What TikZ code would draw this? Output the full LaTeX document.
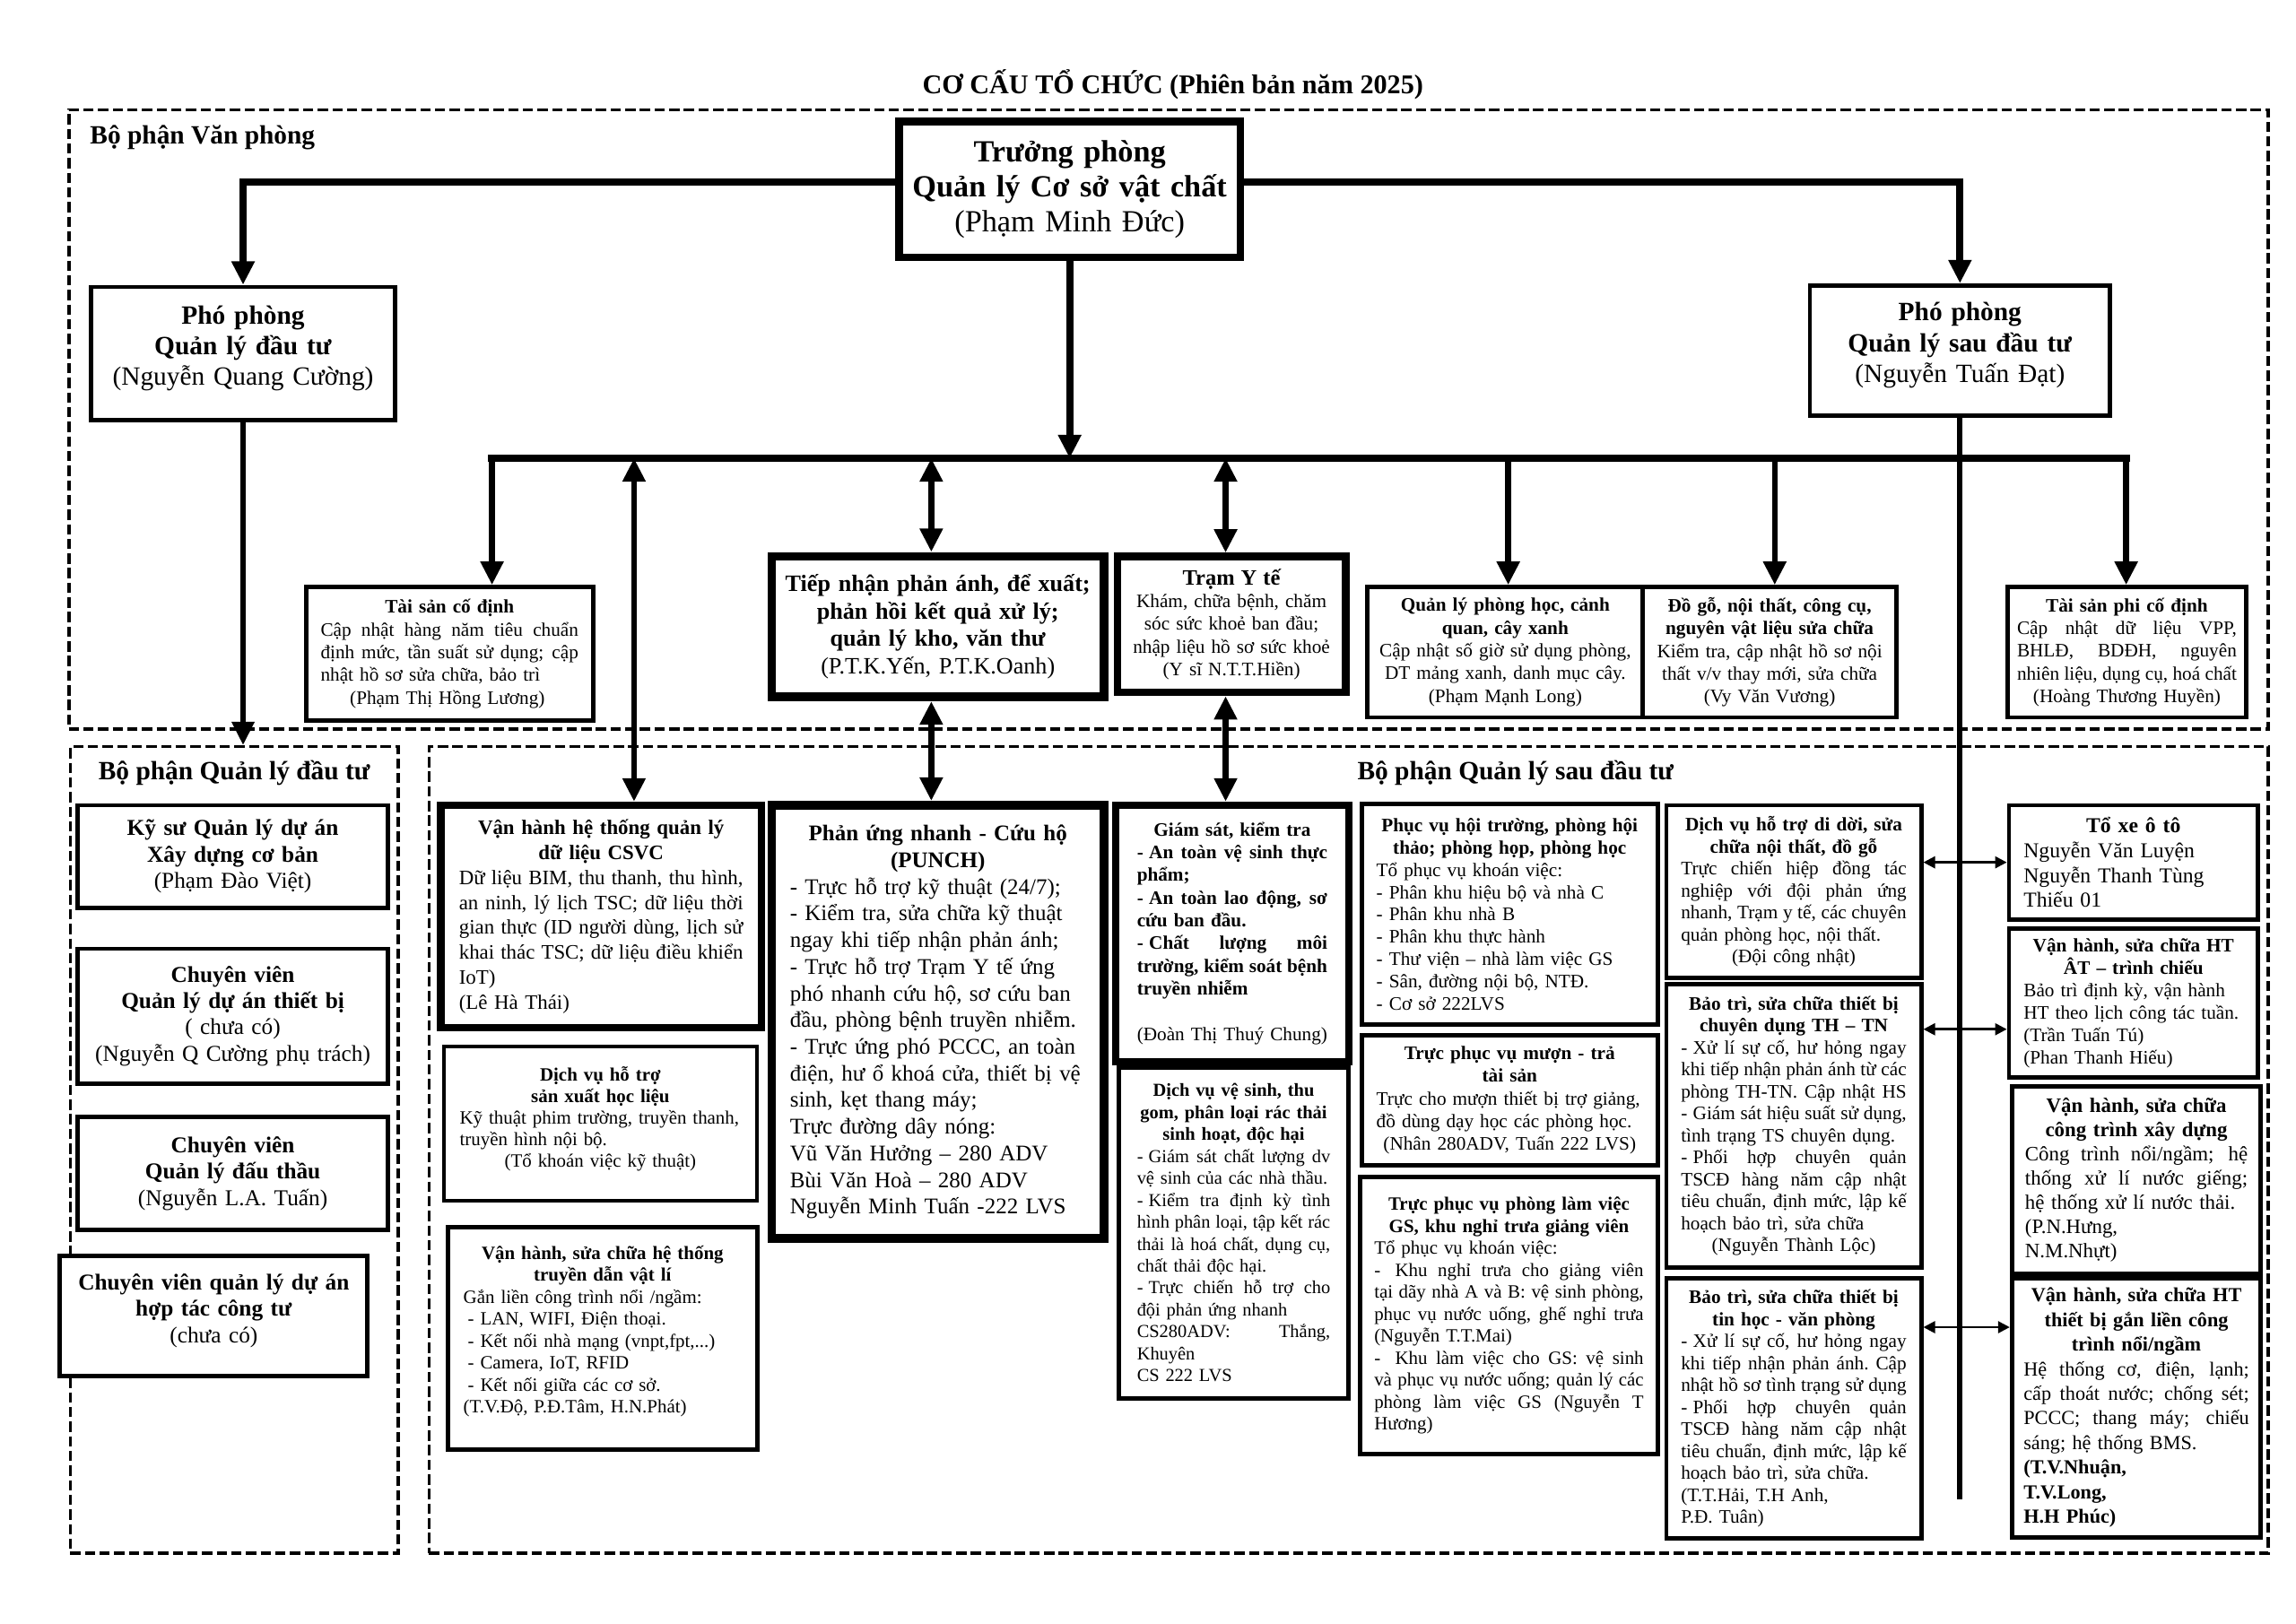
\documentclass[tikz,border=0pt]{standalone}
\usepackage{fontspec}
\setmainfont{Liberation Serif}
\usetikzlibrary{arrows.meta}
\newcommand\J[1]{\makebox[\hsize][s]{\spaceskip=.25em plus 1fil minus .12em\xspaceskip=\spaceskip #1}}
\newcommand\Cc[1]{\makebox[\hsize][c]{#1}}
\newcommand\fsz[2]{\fontsize{#1}{#2}\selectfont}
\newcommand\dsh{-\hspace{.3em}}
\begin{document}
\begin{tikzpicture}[x=1pt,y=-1pt,
 bx/.style={draw, fill=white, line width=3pt, inner xsep=2pt, inner ysep=2pt, align=left,
   execute at begin node={\rightskip=0pt plus 1fil minus 300pt\relax}},
 bxc/.style={bx, align=center,
   execute at begin node={\leftskip=0pt plus 1fil minus 150pt\rightskip=0pt plus 1fil minus 150pt\relax}},
 dbox/.style={draw, line width=2.2pt, dash pattern=on 7pt off 3pt},
 conn/.style={line width=5pt, line cap=rect},
 arr/.style={line width=4pt, -{Triangle[length=16pt,width=15pt]}},
 darr/.style={line width=4pt, {Triangle[length=16pt,width=15pt]}-{Triangle[length=16pt,width=15pt]}},
 sarr/.style={line width=1.6pt, {Triangle[length=8pt,width=8pt]}-{Triangle[length=8pt,width=8pt]}},
 lab/.style={font=\fsz{18}{20}\bfseries}
]
\fill[white] (0,0) rectangle (1568,1109);
\useasboundingbox (0,0) rectangle (1568,1109);

\node[font=\fsz{18.5}{21}\bfseries] (title) at (801,58) {CƠ CẤU TỔ CHỨC (Phiên bản năm 2025)};

% dashed departments
\node[dbox, minimum width=1502pt, minimum height=423pt] (A) at (798,286.5) {};
\node[lab, anchor=west] (Alab) at (58,94) {Bộ phận Văn phòng};
\node[dbox, minimum width=224pt, minimum height=551pt] (B) at (160,785.5) {};
\node[lab] (Blab) at (160,528) {Bộ phận Quản lý đầu tư};
\node[dbox, minimum width=1256pt, minimum height=551pt] (C) at (921,785.5) {};
\node[lab] (Clab) at (1035,528) {Bộ phận Quản lý sau đầu tư};

% top level
\node[bxc, line width=5pt, minimum width=233pt, minimum height=93pt, text width=225pt, font=\fsz{21}{24}] (tp) at (730.5,129.5)
 {\textbf{Trưởng phòng}\\\textbf{Quản lý Cơ sở vật chất}\\(Phạm Minh Đức)};
\node[bxc, minimum width=208pt, minimum height=91pt, text width=200pt, font=\fsz{18}{21}] (pp1) at (166,241.5)
 {\textbf{Phó phòng}\\\textbf{Quản lý đầu tư}\\(Nguyễn Quang Cường)\\[-10pt]\mbox{}};
\node[bxc, minimum width=205pt, minimum height=89pt, text width=197pt, font=\fsz{18}{21}] (pp2) at (1338.5,239.5)
 {\textbf{Phó phòng}\\\textbf{Quản lý sau đầu tư}\\(Nguyễn Tuấn Đạt)\\[-10pt]\mbox{}};

% office row
\node[bx, minimum width=196pt, minimum height=91pt, text width=176pt, font=\fsz{13}{15.5}] (tsc) at (307,446.5)
 {\Cc{\bfseries Tài sản cố định}\\\J{Cập nhật hàng năm tiêu chuẩn}\\\J{định mức, tần suất sử dụng; cập}\\nhật hồ sơ sửa chữa, bảo trì\\\hspace*{20pt}(Phạm Thị Hồng Lương)};
\node[bxc, line width=6pt, minimum width=227pt, minimum height=96pt, text width=215pt, font=\fsz{16}{18.7}] (tn) at (640.5,428)
 {\textbf{Tiếp nhận phản ánh, để xuất;}\\\textbf{phản hồi kết quả xử lý;}\\\textbf{quản lý kho, văn thư}\\(P.T.K.Yến, P.T.K.Oanh)};
\node[bxc, line width=5pt, minimum width=156pt, minimum height=93pt, text width=145pt, font=\fsz{13}{15.5}] (yt) at (841,426.5)
 {{\fsz{15}{17}\bfseries Trạm Y tế}\\Khám, chữa bệnh, chăm\\sóc sức khoẻ ban đầu;\\nhập liệu hồ sơ sức khoẻ\\(Y sĩ N.T.T.Hiền)};
\node[bxc, minimum width=188pt, minimum height=89pt, text width=178pt, font=\fsz{13}{15.5}] (ph) at (1028,445.5)
 {\textbf{Quản lý phòng học, cảnh}\\\textbf{quan, cây xanh}\\Cập nhật số giờ sử dụng phòng,\\DT mảng xanh, danh mục cây.\\(Phạm Mạnh Long)};
\node[bxc, minimum width=173pt, minimum height=89pt, text width=165pt, font=\fsz{13}{15.5}] (dg) at (1208.5,445.5)
 {\textbf{Đồ gỗ, nội thất, công cụ,}\\\textbf{nguyên vật liệu sửa chữa}\\Kiểm tra, cập nhật hồ sơ nội\\thất v/v thay mới, sửa chữa\\(Vy Văn Vương)};
\node[bx, minimum width=163pt, minimum height=89pt, text width=150pt, font=\fsz{13}{15.5}] (tspc) at (1452.5,445.5)
 {\Cc{\bfseries Tài sản phi cố định}\\\J{Cập nhật dữ liệu VPP,}\\\J{BHLĐ, BDĐH, nguyên}\\\J{nhiên liệu, dụng cụ, hoá chất}\\\Cc{(Hoàng Thương Huyền)}};

% investment department
\node[bxc, minimum width=212pt, minimum height=70pt, text width=205pt, font=\fsz{15.5}{18}] (b1) at (159,585)
 {\textbf{Kỹ sư Quản lý dự án}\\\textbf{Xây dựng cơ bản}\\(Phạm Đào Việt)};
\node[bxc, minimum width=212pt, minimum height=92pt, text width=205pt, font=\fsz{15.5}{18}] (b2) at (159,694)
 {\textbf{Chuyên viên}\\\textbf{Quản lý dự án thiết bị}\\( chưa có)\\(Nguyễn Q Cường phụ trách)};
\node[bxc, minimum width=212pt, minimum height=77pt, text width=205pt, font=\fsz{15.5}{18}] (b3) at (159,801.5)
 {\textbf{Chuyên viên}\\\textbf{Quản lý đấu thầu}\\(Nguyễn L.A. Tuấn)};
\node[bxc, minimum width=210pt, minimum height=82pt, text width=203pt, font=\fsz{15.5}{18}] (b4) at (146,899)
 {\textbf{Chuyên viên quản lý dự án}\\\textbf{hợp tác công tư}\\(chưa có)\\[-7pt]\mbox{}};

% after-investment department
\node[bx, line width=5pt, minimum width=219pt, minimum height=152pt, text width=194pt, font=\fsz{14}{17}] (c1) at (410.5,626)
 {\Cc{\bfseries Vận hành hệ thống quản lý}\\\Cc{\bfseries dữ liệu CSVC}\\\J{Dữ liệu BIM, thu thanh, thu hình,}\\\J{an ninh, lý lịch TSC; dữ liệu thời}\\\J{gian thực (ID người dùng, lịch sử}\\\J{khai thác TSC; dữ liệu điều khiển}\\IoT)\\(Lê Hà Thái)};
\node[bx, line width=2.5pt, minimum width=214pt, minimum height=105pt, text width=192pt, font=\fsz{12.8}{14.7}] (c2) at (410,767.5)
 {\Cc{\bfseries Dịch vụ hỗ trợ}\\\Cc{\bfseries sản xuất học liệu}\\Kỹ thuật phim trường, truyền thanh,\\truyền hình nội bộ.\\\Cc{(Tổ khoán việc kỹ thuật)}\\[-6pt]\mbox{}};
\node[bx, minimum width=211pt, minimum height=152pt, text width=190pt, font=\fsz{12.8}{15}] (c3) at (411.5,914)
 {\Cc{\bfseries Vận hành, sửa chữa hệ thống}\\\Cc{\bfseries truyền dẫn vật lí}\\Gắn liền công trình nổi /ngầm:\\\hspace*{3pt}- LAN, WIFI, Điện thoại.\\\hspace*{3pt}- Kết nối nhà mạng (vnpt,fpt,...)\\\hspace*{3pt}- Camera, IoT, RFID\\\hspace*{3pt}- Kết nối giữa các cơ sở.\\(T.V.Độ, P.Đ.Tâm, H.N.Phát)\\[-3pt]\mbox{}};
\node[bx, line width=6pt, minimum width=227pt, minimum height=296pt, text width=202pt, font=\fsz{15.3}{18.2}] (pu) at (640.5,698)
 {\Cc{\bfseries Phản ứng nhanh - Cứu hộ}\\\Cc{\bfseries (PUNCH)}\\- Trực hỗ trợ kỹ thuật (24/7);\\- Kiểm tra, sửa chữa kỹ thuật\\ngay khi tiếp nhận phản ánh;\\- Trực hỗ trợ Trạm Y tế ứng\\phó nhanh cứu hộ, sơ cứu ban\\đầu, phòng bệnh truyền nhiễm.\\- Trực ứng phó PCCC, an toàn\\điện, hư ổ khoá cửa, thiết bị vệ\\sinh, kẹt thang máy;\\Trực đường dây nóng:\\Vũ Văn Hưởng – 280 ADV\\Bùi Văn Hoà – 280 ADV\\Nguyễn Minh Tuấn -222 LVS};
\node[bx, line width=5pt, minimum width=159pt, minimum height=175pt, text width=130pt, font=\fsz{13}{15.5}] (gs) at (841.5,637.5)
 {\Cc{\bfseries Giám sát, kiểm tra}\\\bfseries\J{\dsh An toàn vệ sinh thực}\\phẩm;\\\J{\dsh An toàn lao động, sơ}\\cứu ban đầu.\\\J{\dsh Chất lượng môi}\\\J{trường, kiểm soát bệnh}\\truyền nhiễm\\[15.5pt]\mdseries(Đoàn Thị Thuý Chung)};
\node[bx, minimum width=157pt, minimum height=226pt, text width=132pt, font=\fsz{12.5}{15}] (vs) at (842.5,842)
 {\Cc{\bfseries Dịch vụ vệ sinh, thu}\\\Cc{\bfseries gom, phân loại rác thải}\\\Cc{\bfseries sinh hoạt, độc hại}\\\J{\dsh Giám sát chất lượng dv}\\vệ sinh của các nhà thầu.\\\J{\dsh Kiểm tra định kỳ tình}\\\J{hình phân loại, tập kết rác}\\\J{thải là hoá chất, dụng cụ,}\\chất thải độc hại.\\\J{\dsh Trực chiến hỗ trợ cho}\\đội phản ứng nhanh\\\J{CS280ADV: Thắng,}\\Khuyên\\CS 222 LVS};
\node[bx, minimum width=202pt, minimum height=151pt, text width=182pt, font=\fsz{13}{15.2}] (hT) at (1031,624.5)
 {\Cc{\bfseries Phục vụ hội trường, phòng hội}\\\Cc{\bfseries thảo; phòng họp, phòng học}\\Tổ phục vụ khoán việc:\\- Phân khu hiệu bộ và nhà C\\- Phân khu nhà B\\- Phân khu thực hành\\- Thư viện – nhà làm việc GS\\- Sân, đường nội bộ, NTĐ.\\- Cơ sở 222LVS};
\node[bx, minimum width=202pt, minimum height=89pt, text width=182pt, font=\fsz{13}{15.5}] (mt) at (1031,751.5)
 {\Cc{\bfseries Trực phục vụ mượn - trả}\\\Cc{\bfseries tài sản}\\Trực cho mượn thiết bị trợ giảng,\\đồ dùng dạy học các phòng học.\\\Cc{(Nhân 280ADV, Tuấn 222 LVS)}};
\node[bx, minimum width=203pt, minimum height=189pt, text width=184pt, font=\fsz{12.8}{15}] (lv) at (1030.5,898.5)
 {\Cc{\bfseries Trực phục vụ phòng làm việc}\\\Cc{\bfseries GS, khu nghỉ trưa giảng viên}\\Tổ phục vụ khoán việc:\\\J{-\hspace{10pt}Khu nghỉ trưa cho giảng viên}\\\J{tại dãy nhà A và B: vệ sinh phòng,}\\\J{phục vụ nước uống, ghế nghỉ trưa}\\(Nguyễn T.T.Mai)\\\J{-\hspace{10pt}Khu làm việc cho GS: vệ sinh}\\\J{và phục vụ nước uống; quản lý các}\\\J{phòng làm việc GS (Nguyễn T}\\Hương)};
\node[bx, minimum width=174pt, minimum height=118pt, text width=154pt, font=\fsz{13}{15}] (dd) at (1225,609)
 {\Cc{\bfseries Dịch vụ hỗ trợ di dời, sửa}\\\Cc{\bfseries chữa nội thất, đồ gỗ}\\\J{Trực chiến hiệp đồng tác}\\\J{nghiệp với đội phản ứng}\\\J{nhanh, Trạm y tế, các chuyên}\\quản phòng học, nội thất.\\\Cc{(Đội công nhật)}};
\node[bx, minimum width=174pt, minimum height=194pt, text width=154pt, font=\fsz{13}{15}] (tt) at (1225,769)
 {\Cc{\bfseries Bảo trì, sửa chữa thiết bị}\\\Cc{\bfseries chuyên dụng TH – TN}\\\J{\dsh Xử lí sự cố, hư hỏng ngay}\\\J{khi tiếp nhận phản ánh từ các}\\\J{phòng TH-TN. Cập nhật HS}\\\J{\dsh Giám sát hiệu suất sử dụng,}\\tình trạng TS chuyên dụng.\\\J{\dsh Phối hợp chuyên quản}\\\J{TSCĐ hàng năm cập nhật}\\\J{tiêu chuẩn, định mức, lập kế}\\hoạch bảo trì, sửa chữa\\\Cc{(Nguyễn Thành Lộc)}};
\node[bx, minimum width=174pt, minimum height=178pt, text width=154pt, font=\fsz{13}{15}] (th) at (1225,962)
 {\Cc{\bfseries Bảo trì, sửa chữa thiết bị}\\\Cc{\bfseries tin học - văn phòng}\\\J{\dsh Xử lí sự cố, hư hỏng ngay}\\\J{khi tiếp nhận phản ánh. Cập}\\\J{nhật hồ sơ tình trạng sử dụng}\\\J{\dsh Phối hợp chuyên quản}\\\J{TSCĐ hàng năm cập nhật}\\\J{tiêu chuẩn, định mức, lập kế}\\hoạch bảo trì, sửa chữa.\\(T.T.Hải, T.H Anh,\\P.Đ. Tuân)};
\node[bx, minimum width=170pt, minimum height=78pt, text width=150pt, font=\fsz{14.5}{17}] (xe) at (1457,589)
 {\Cc{\bfseries Tổ xe ô tô}\\Nguyễn Văn Luyện\\Nguyễn Thanh Tùng\\Thiếu 01};
\node[bx, minimum width=170pt, minimum height=102pt, text width=150pt, font=\fsz{13}{15.3}] (at) at (1457,685)
 {\Cc{\bfseries Vận hành, sửa chữa HT}\\\Cc{\bfseries ÂT – trình chiếu}\\Bảo trì định kỳ, vận hành\\HT theo lịch công tác tuần.\\(Trần Tuấn Tú)\\(Phan Thanh Hiếu)};
\node[bx, minimum width=170pt, minimum height=128pt, text width=152pt, font=\fsz{14}{16.5}] (xd) at (1459,806)
 {\Cc{\bfseries Vận hành, sửa chữa}\\\Cc{\bfseries công trình xây dựng}\\\J{Công trình nổi/ngầm; hệ}\\\J{thống xử lí nước giếng;}\\hệ thống xử lí nước thải.\\(P.N.Hưng,\\N.M.Nhựt)};
\node[bx, minimum width=170pt, minimum height=177pt, text width=154pt, font=\fsz{13.6}{16.8}] (tb) at (1459,961.5)
 {\Cc{\bfseries Vận hành, sửa chữa HT}\\\Cc{\bfseries thiết bị gắn liền công}\\\Cc{\bfseries trình nổi/ngầm}\\\J{Hệ thống cơ, điện, lạnh;}\\\J{cấp thoát nước; chống sét;}\\\J{PCCC; thang máy; chiếu}\\sáng; hệ thống BMS.\\\textbf{(T.V.Nhuận,}\\\textbf{T.V.Long,}\\\textbf{H.H Phúc)}};

% connectors
\coordinate (busL) at (336,313);
\coordinate (busR) at (1452,313);
\coordinate (k1) at (433,313);
\coordinate (k2) at (636,313);
\coordinate (k3) at (837,313);
\coordinate (k4) at (1030,313);
\coordinate (k5) at (1212,313);
\coordinate (vend) at (1341,1024);
\draw[conn] (busL) -- (busR);
\draw[arr, line width=5pt] ([yshift=5pt]tp.west) -| (pp1.north);
\draw[arr, line width=5pt] ([yshift=5pt]tp.east) -| (pp2.north);
\draw[arr, line width=5pt] (tp.south) -- (tp.south |- busL);
\draw[arr] (busL) -- (busL |- tsc.north);
\draw[darr] (k1) -- (k1 |- c1.north);
\draw[darr] (k2) -- (k2 |- tn.north);
\draw[darr] (k2 |- tn.south) -- (k2 |- pu.north);
\draw[darr] (k3) -- (k3 |- yt.north);
\draw[darr] (k3 |- yt.south) -- (k3 |- gs.north);
\draw[arr] (k4) -- (k4 |- ph.north);
\draw[arr] (k5) -- (k5 |- dg.north);
\draw[arr] (busR) -- (busR |- tspc.north);
\draw[line width=3.5pt] (pp2.south) -- (pp2.south |- vend);
\draw[arr, line width=3.5pt] (pp1.south) -- (pp1.south |- B.north);
\coordinate (h1) at (xe.west);
\coordinate (h2) at ([yshift=-18pt]at.west);
\coordinate (h3) at ([yshift=55pt]tb.west);
\draw[sarr] (dd.east |- h1) -- (h1);
\draw[sarr] (tt.east |- h2) -- (h2);
\draw[sarr] (th.east |- h3) -- (h3);
\end{tikzpicture}
\end{document}
